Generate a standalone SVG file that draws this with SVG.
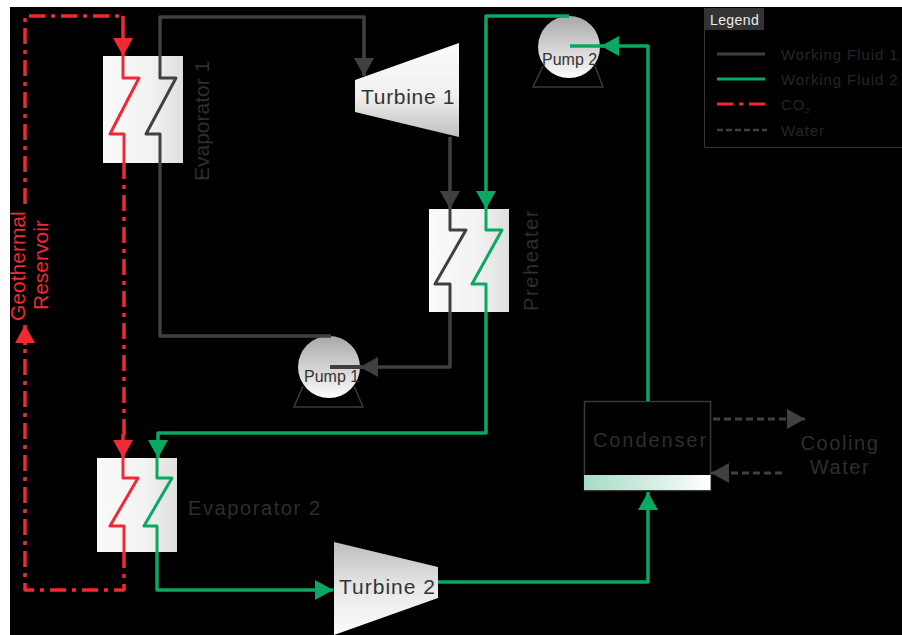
<svg xmlns="http://www.w3.org/2000/svg" width="902" height="635" viewBox="0 0 902 635">
<style>
.c{fill:none;stroke-linejoin:round}
.k{stroke:#404040;stroke-width:3.5}
.g{stroke:#0aa862;stroke-width:3.5}
.r{stroke:#ee2a35;stroke-width:3.5}
.z{stroke-width:3}
.rd{stroke:#ee2a35;stroke-width:3.5;stroke-dasharray:16 6 4 6}
.w{stroke:#404040;stroke-width:3;stroke-dasharray:7 4}
.lab{font-family:"Liberation Sans",Arial,sans-serif;fill:#2e2e2e}
.dk{font-family:"Liberation Sans",Arial,sans-serif;fill:#333}
.geo{font-family:"Liberation Sans",Arial,sans-serif;font-size:21px;fill:#ee2a35}
.hx{fill:url(#hx)}
.base{fill:none;stroke:#3a3a3a;stroke-width:1.5}
.leg{font-family:"Liberation Sans",Arial,sans-serif;font-size:15px;fill:#262626;letter-spacing:.9px}
</style>
<defs>
<linearGradient id="hx"><stop offset="0" stop-color="#fafafa"/><stop offset=".6" stop-color="#f2f2f2"/><stop offset="1" stop-color="#dfdfdf"/></linearGradient>
<linearGradient id="t1" x1="0" y1="0" x2="0" y2="1"><stop offset="0" stop-color="#fbfbfb"/><stop offset=".55" stop-color="#f0f0f0"/><stop offset="1" stop-color="#c0c0c0"/></linearGradient>
<linearGradient id="t2" x1="0" y1="0" x2="0" y2="1"><stop offset="0" stop-color="#bdbdbd"/><stop offset=".5" stop-color="#e8e8e8"/><stop offset="1" stop-color="#fbfbfb"/></linearGradient>
<linearGradient id="pu" x1="0" y1="0" x2="0" y2="1"><stop offset="0" stop-color="#a8a8a8"/><stop offset="1" stop-color="#fcfcfc"/></linearGradient>
<linearGradient id="co"><stop offset="0" stop-color="#a5dcc5"/><stop offset=".7" stop-color="#e3f3ec"/><stop offset="1" stop-color="#fff"/></linearGradient>
<marker id="ak" markerUnits="userSpaceOnUse" markerWidth="19" markerHeight="20" refX="18" refY="10" orient="auto"><path d="M0 0L18 10L0 20Z" fill="#404040"/></marker>
<marker id="ag" markerUnits="userSpaceOnUse" markerWidth="19" markerHeight="20" refX="18" refY="10" orient="auto"><path d="M0 0L18 10L0 20Z" fill="#0aa862"/></marker>
<marker id="ar" markerUnits="userSpaceOnUse" markerWidth="19" markerHeight="20" refX="18" refY="10" orient="auto"><path d="M0 0L18 10L0 20Z" fill="#ee2a35"/></marker>
</defs>
<rect width="902" height="635" fill="#fff"/>
<rect x="10" y="7" width="892" height="628" fill="#000"/>

<g id="evaporator-1"><rect class="hx" x="103" y="56" width="80" height="107"/>
<text class="lab" transform="translate(209 181) rotate(-90)" font-size="21">Evaporator 1</text></g>
<g id="evaporator-2"><rect class="hx" x="97" y="458" width="80" height="94"/>
<text class="lab" x="188" y="515" font-size="20" letter-spacing="1.600">Evaporator 2</text></g>
<g id="preheater"><rect class="hx" x="429" y="209" width="80" height="103"/>
<text class="lab" transform="translate(538 311) rotate(-90)" font-size="20" letter-spacing="1.600">Preheater</text></g>
<g id="turbine-1"><polygon points="355,80 459,43 459,137 355,112" fill="url(#t1)"/>
<text class="dk" x="361" y="104" font-size="21" letter-spacing=".7">Turbine 1</text></g>
<g id="turbine-2"><polygon points="334,542 438,567 438,598 334,635" fill="url(#t2)"/>
<text class="dk" x="339" y="594" font-size="21" letter-spacing="1">Turbine 2</text></g>
<g id="pump-1"><path class="base" d="M303 386L294 407H363L354 386"/><circle cx="329" cy="367" r="31" fill="url(#pu)"/>
<text class="dk" x="304" y="382" font-size="16">Pump 1</text></g>
<g id="pump-2"><path class="base" d="M543 66L533 87H603L595 66"/><circle cx="569" cy="47" r="31" fill="url(#pu)"/>
<text class="dk" x="542" y="65" font-size="16">Pump 2</text></g>
<g id="condenser"><rect x="584.500" y="401.500" width="126" height="89" fill="#000" stroke="#3a3a3a" stroke-width="1.500"/><rect x="584" y="475" width="126.500" height="15" fill="url(#co)"/>
<text class="lab" x="593" y="447" font-size="20" letter-spacing="1.900">Condenser</text></g>
<g id="geothermal-reservoir"><text class="geo" transform="translate(25 321) rotate(-90)">Geothermal</text>
<text class="geo" transform="translate(48 310) rotate(-90)">Reservoir</text></g>
<g id="cooling-water"><text class="lab" x="840" y="450" font-size="20" text-anchor="middle" letter-spacing="1.600">Cooling</text><text class="lab" x="840" y="474" font-size="20" text-anchor="middle" letter-spacing="1.600">Water</text></g>

<g id="connectors">
<path class="c k" d="M160 56V17H364V76" marker-end="url(#ak)"/>
<path class="c k z" d="M160 56V78H176L146 134H160V163"/>
<path class="c k" d="M160 163V336H331"/>
<path class="c k" d="M450 137V209" marker-end="url(#ak)"/>
<path class="c k z" d="M450 209V230H466L435 284H450V312"/>
<path class="c k" d="M450 312V367H360" marker-end="url(#ak)"/>
<path class="c k" style="stroke-width:4" d="M330 367H362"/>
<path class="c g" d="M569 16H486V209" marker-end="url(#ag)"/>
<path class="c g z" d="M486 209V230H502L472 284H486V312"/>
<path class="c g" d="M486 312V433H158V458" marker-end="url(#ag)"/>
<path class="c g z" d="M157 458V478H172L144 526H157V552"/>
<path class="c g" d="M157 552V590H333" marker-end="url(#ag)"/>
<path class="c g" d="M438 582H648V492" marker-end="url(#ag)"/>
<path class="c g" d="M648 401V46H601" marker-end="url(#ag)"/>
<path class="c g" d="M570 46H603"/>
<path class="c rd" d="M124 552V590H25V337"/>
<path class="c r" d="M25 345V325" marker-end="url(#ar)"/>
<path class="c rd" d="M25 204V16H123"/>
<path class="c r" d="M123 16V56" marker-end="url(#ar)"/>
<path class="c r z" d="M123 56V78H139L110 134H124V163"/>
<path class="c rd" d="M124 163V436"/>
<path class="c r" d="M123 434V458" marker-end="url(#ar)"/>
<path class="c r z" d="M123 458V478H138L110 526H124V552"/>
<path class="c w" d="M713 419H805" marker-end="url(#ak)"/>
<path class="c w" d="M782 473H711" marker-end="url(#ak)"/>
</g>

<g id="legend">
<path d="M704.500 8V147.500H902" fill="none" stroke="#333" stroke-width="1"/>
<rect x="704" y="8" width="60" height="22" fill="#333"/>
<text x="710" y="25" font-family="Liberation Sans,Arial,sans-serif" font-size="14" letter-spacing=".4" fill="#eee">Legend</text>
<path class="c" stroke="#404040" stroke-width="3" d="M717 54H765"/>
<path class="c" stroke="#0aa862" stroke-width="3" d="M717 79H765"/>
<path class="c" stroke="#ee2a35" stroke-width="3" stroke-dasharray="16 6 4 6" d="M717 104H766"/>
<path class="c" stroke="#404040" stroke-width="2.500" stroke-dasharray="6 3" d="M717 130H767"/>
<text class="leg" x="781" y="60">Working Fluid 1</text>
<text class="leg" x="781" y="85">Working Fluid 2</text>
<text class="leg" x="781" y="110">CO<tspan font-size="8" dy="3">2</tspan></text>
<text class="leg" x="781" y="136">Water</text>
</g>
</svg>
